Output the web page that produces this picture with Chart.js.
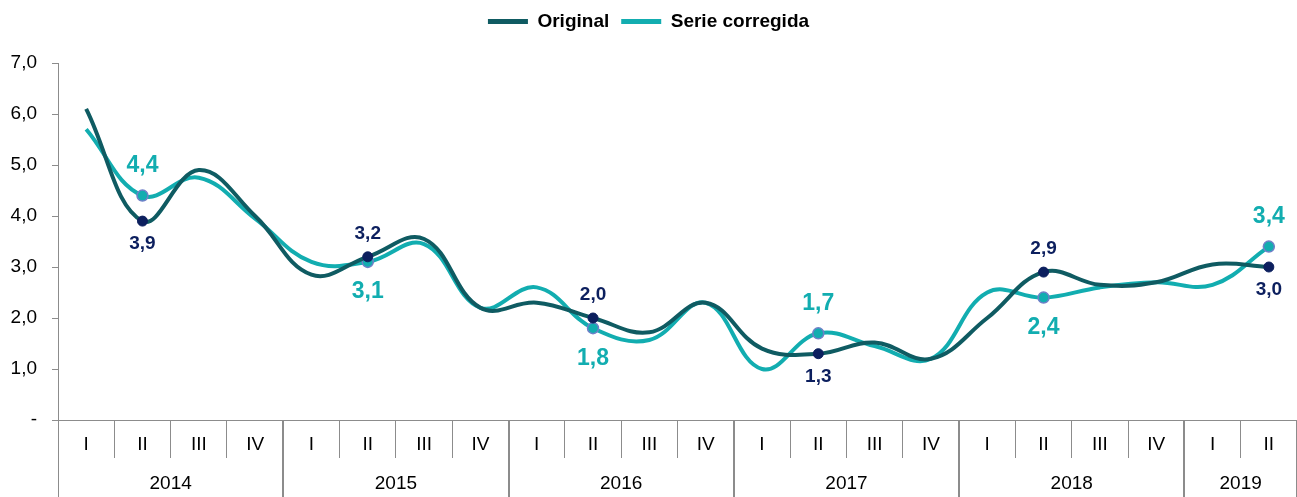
<!DOCTYPE html>
<html>
<head>
<meta charset="utf-8">
<script src="https://cdn.jsdelivr.net/npm/chart.js@4.4.1/dist/chart.umd.min.js"></script>
<style>
  html, body { margin: 0; padding: 0; background: #fff; overflow: hidden; }
  #wrap { width: 1297px; height: 497px; position: relative; }
  canvas { display: block; }
</style>
</head>
<body>
<div id="wrap"><canvas id="chart"></canvas></div>
<script>
const quarters = ['I', 'II', 'III', 'IV', 'I', 'II', 'III', 'IV', 'I', 'II', 'III', 'IV',
                  'I', 'II', 'III', 'IV', 'I', 'II', 'III', 'IV', 'I', 'II'];
const years = ['2014', '2015', '2016', '2017', '2018', '2019'];
const quartersPerYear = [4, 4, 4, 4, 4, 2];

const original = [6.1, 3.9, 4.9, 4.0, 2.85, 3.2, 3.55, 2.2, 2.3, 2.0, 1.72, 2.3,
                  1.4, 1.3, 1.52, 1.2, 2.0, 2.9, 2.65, 2.7, 3.05, 3.0];
const corregida = [5.7, 4.4, 4.75, 3.95, 3.1, 3.1, 3.45, 2.2, 2.6, 1.8, 1.57, 2.3,
                   1.0, 1.7, 1.45, 1.2, 2.5, 2.4, 2.6, 2.7, 2.65, 3.4];

// points that carry a marker and a value label
const labelled = [1, 5, 9, 13, 17, 21];

const fmt = v => v.toFixed(1).replace('.', ',');

const NAVY = '#0c1f5e';
const TEAL = '#0f5b62';
const CYAN = '#12adb0';

const labelPlugin = {
  id: 'valueLabels',
  afterDatasetsDraw(chart) {
    const ctx = chart.ctx;
    const place = [
      ['below', 'above', 'above', 'below', 'above', 'below'],
      ['above', 'below', 'below', 'above', 'below', 'above']
    ];
    const style = [
      { color: NAVY, font: 'bold 19px "Liberation Sans", Arial', off: 23 },
      { color: CYAN, font: 'bold 23px "Liberation Sans", Arial', off: 30 }
    ];
    ctx.save();
    ctx.textAlign = 'center';
    ctx.textBaseline = 'middle';
    chart.data.datasets.forEach((ds, di) => {
      const meta = chart.getDatasetMeta(di);
      labelled.forEach((idx, k) => {
        const pt = meta.data[idx];
        const s = style[di];
        ctx.fillStyle = s.color;
        ctx.font = s.font;
        const dy = place[di][k] === 'above' ? -s.off : s.off;
        ctx.fillText(fmt(ds.data[idx]), pt.x, pt.y + dy);
      });
    });
    ctx.restore();
  }
};

const yearAxisPlugin = {
  id: 'yearAxis',
  afterDraw(chart) {
    const ctx = chart.ctx;
    const xs = chart.scales.x;
    const half = (xs.getPixelForValue(1) - xs.getPixelForValue(0)) / 2;
    const top = chart.chartArea.bottom;
    ctx.save();
    ctx.strokeStyle = '#8c8c8c';
    ctx.lineWidth = 1;
    ctx.fillStyle = '#000';
    ctx.font = '19px "Liberation Sans", Arial';
    ctx.textAlign = 'center';
    ctx.textBaseline = 'middle';
    let start = 0;
    years.forEach((yr, i) => {
      const n = quartersPerYear[i];
      const left = xs.getPixelForValue(start) - half;
      const right = xs.getPixelForValue(start + n - 1) + half;
      ctx.beginPath();
      ctx.moveTo(Math.round(left) + 0.5, top);
      ctx.lineTo(Math.round(left) + 0.5, chart.height);
      ctx.moveTo(Math.round(right) - 0.5, top);
      ctx.lineTo(Math.round(right) - 0.5, chart.height);
      ctx.stroke();
      ctx.fillText(yr, (left + right) / 2, 484);
      start += n;
    });
    ctx.restore();
  }
};

const legendGap = {
  id: 'legendGap',
  beforeInit(chart) {
    const fit = chart.legend.fit;
    chart.legend.fit = function () {
      fit.bind(chart.legend)();
      this.height += 22;
    };
  }
};

new Chart(document.getElementById('chart'), {
  type: 'line',
  plugins: [labelPlugin, yearAxisPlugin, legendGap],
  data: {
    labels: quarters,
    datasets: [
      {
        label: 'Original',
        data: original,
        borderColor: TEAL,
        borderWidth: 4,
        tension: 0.4,
        pointRadius: c => labelled.includes(c.dataIndex) ? 5 : 0,
        pointBackgroundColor: NAVY,
        pointBorderColor: NAVY,
        pointBorderWidth: 1
      },
      {
        label: 'Serie corregida',
        data: corregida,
        borderColor: CYAN,
        borderWidth: 4,
        tension: 0.4,
        pointRadius: c => labelled.includes(c.dataIndex) ? 5.5 : 0,
        pointBackgroundColor: CYAN,
        pointBorderColor: '#6f80c8',
        pointBorderWidth: 1.5
      }
    ]
  },
  options: {
    responsive: true,
    maintainAspectRatio: false,
    animation: false,
    events: [],
    layout: { padding: 0, autoPadding: false },
    plugins: {
      legend: {
        position: 'top',
        labels: {
          usePointStyle: true,
          pointStyle: 'line',
          pointStyleWidth: 40,
          color: '#000',
          padding: 12,
          font: { family: '"Liberation Sans", Arial', size: 19, weight: 'bold' },
          generateLabels(chart) {
            return chart.data.datasets.map((ds, i) => ({
              text: ds.label,
              datasetIndex: i,
              strokeStyle: ds.borderColor,
              fillStyle: ds.borderColor,
              lineWidth: 5,
              pointStyle: 'line',
              fontColor: '#000',
              hidden: false
            }));
          }
        }
      },
      tooltip: { enabled: false }
    },
    scales: {
      x: {
        offset: true,
        border: { color: '#8c8c8c' },
        grid: {
          offset: true,
          drawOnChartArea: false,
          drawTicks: true,
          tickLength: 38,
          color: '#8c8c8c'
        },
        ticks: {
          padding: -25,
          color: '#000',
          maxRotation: 0,
          autoSkip: false,
          font: { family: '"Liberation Sans", Arial', size: 19 }
        },
        afterFit(scale) {
          scale.height = 77;
          scale.paddingLeft = 0;
          scale.paddingRight = 0;
        }
      },
      y: {
        min: 0,
        max: 7,
        border: { color: '#8c8c8c' },
        grid: {
          drawOnChartArea: false,
          drawTicks: true,
          tickLength: 6,
          color: '#8c8c8c'
        },
        ticks: {
          stepSize: 1,
          padding: 15,
          color: '#000',
          font: { family: '"Liberation Sans", Arial', size: 19 },
          callback: v => v === 0 ? '-' : fmt(v)
        },
        afterFit(scale) { scale.width = 58; }
      }
    }
  }
});
</script>
</body>
</html>
